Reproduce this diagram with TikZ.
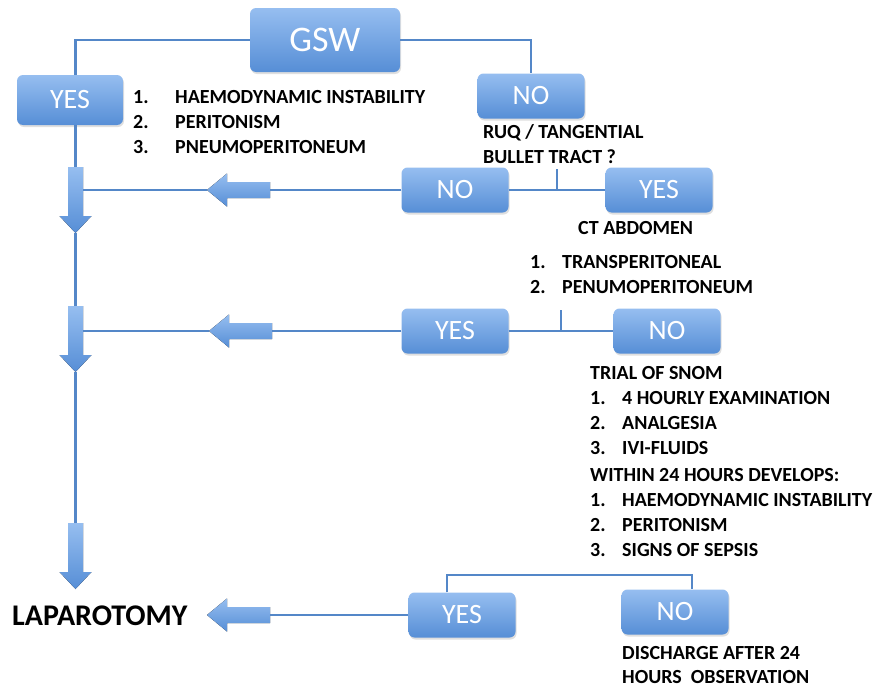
\documentclass[tikz,border=0pt]{standalone}
\usepackage{fontspec}
\setmainfont{Carlito}
\usetikzlibrary{calc,shadows}
\definecolor{boxtop}{RGB}{150,190,240}
\definecolor{boxbot}{RGB}{86,142,214}
\definecolor{linkblue}{RGB}{84,135,200}
\begin{document}
\begin{tikzpicture}[
            x=1pt, y=-1pt,
            box/.style={rounded corners=6pt, top color=boxtop, bottom color=boxbot, text=white,
              minimum width=107pt, minimum height=45pt, inner sep=0pt,
              font=\fontsize{28}{30}\selectfont,
              drop shadow={shadow xshift=1pt, shadow yshift=-2pt, opacity=0.25}},
            txt/.style={inner sep=0pt, anchor=base west, font=\bfseries\fontsize{20}{25}\selectfont},
            link/.style={draw=linkblue, line width=2.3pt},
            arrowfill/.style={top color=boxtop, bottom color=boxbot},
            pics/downarrow/.style={code={
              \fill[arrowfill] (-7.5,0) -- (7.5,0) -- (7.5,49) -- (16,49) -- (0,66) -- (-16,49) -- (-7.5,49) -- cycle;
              \coordinate (-top) at (0,0);
              \coordinate (-east) at (7.5,0);
              \coordinate (-tip) at (0,66);
            }},
            pics/leftarrow/.style={code={
              \fill[arrowfill] (0,-8) -- (-43,-8) -- (-43,-16.5) -- (-63,0) -- (-43,16.5) -- (-43,8) -- (0,8) -- cycle;
              \coordinate (-tail) at (0,0);
              \coordinate (-tip) at (-63,0);
            }}
            ]
            \fill[white] (0,0) rectangle (883,688);
            \useasboundingbox (0,0) rectangle (883,688);

            % decision boxes
            \node[box, minimum width=150pt, minimum height=64pt, font=\fontsize{36}{40}\selectfont] (gsw) at (325,40) {GSW};
            \node[box, minimum width=106pt, minimum height=50pt] (yes1) at (70,100) {YES};
            \node[box] (no1) at (531,96) {NO};
            \node[box] (no2) at (455,190) {NO};
            \node[box] (yes2) at (659,190) {YES};
            \node[box] (yes3) at (455,331) {YES};
            \node[box] (no3) at (667,331) {NO};
            \node[box] (yes4) at (462,615) {YES};
            \node[box] (no4) at (675,612) {NO};

            % texts
            \node[txt] (crit1) at (133,103.5) {\begin{tabular}[t]{@{}p{42pt}@{}l@{}}
              1.&HAEMODYNAMIC INSTABILITY\\2.&PERITONISM\\3.&PNEUMOPERITONEUM\end{tabular}};
            \node[txt] (ruq) at (483,138) {\begin{tabular}[t]{@{}l@{}}
              RUQ / TANGENTIAL\\BULLET TRACT ?\end{tabular}};
            \node[txt] (ct) at (578,234.5) {CT ABDOMEN};
            \node[txt] (trans) at (530,268.5) {\begin{tabular}[t]{@{}p{32pt}@{}l@{}}
              1.&TRANSPERITONEAL\\2.&PENUMOPERITONEUM\end{tabular}};
            \node[txt] (snom) at (590,379.5) {\begin{tabular}[t]{@{}p{32pt}@{}l@{}}
              \multicolumn{2}{@{}l@{}}{TRIAL OF SNOM}\\
              1.&4 HOURLY EXAMINATION\\2.&ANALGESIA\\3.&IVI-FLUIDS\end{tabular}};
            \node[txt] (within) at (590,481.5) {\begin{tabular}[t]{@{}p{32pt}@{}l@{}}
              \multicolumn{2}{@{}l@{}}{WITHIN 24 HOURS DEVELOPS:}\\
              1.&HAEMODYNAMIC INSTABILITY\\2.&PERITONISM\\3.&SIGNS OF SEPSIS\end{tabular}};
            \node[txt, font=\bfseries\fontsize{20}{24}\selectfont] (discharge) at (622,659) {\begin{tabular}[t]{@{}l@{}}
              DISCHARGE AFTER 24\\HOURS\ \ OBSERVATION\end{tabular}};
            \node[txt, font=\bfseries\fontsize{30}{34}\selectfont] (lap) at (12,625.5) {LAPAROTOMY};

            % block arrows
            \pic (da1) at (75.5,167) {downarrow};
            \pic (da2) at (75.5,306) {downarrow};
            \pic (da3) at (75.5,523) {downarrow};
            \pic (la1) at (270,190) {leftarrow};
            \pic (la2) at (272,331) {leftarrow};
            \pic (la3) at (270,615) {leftarrow};

            % connectors
            \draw[link] (gsw.west) -| (yes1.north -| da1-top);
            \draw[link] (gsw.east) -| (no1.north);
            \draw[link] (yes1.south -| da1-top) -- (da1-top);
            \draw[link] (da1-tip) -- (da2-top);
            \draw[link] (da2-tip) -- (da3-top);
            \draw[link] (no2.west) -- (la1-tail);
            \draw[link] (la1-tip) -- (la1-tip -| da1-east);
            \draw[link] (no2.east) -- (yes2.west);
            \coordinate (t1) at ($(no2.east)!0.5!(yes2.west)$);
            \draw[link] (t1) -- ++(0,-21);
            \draw[link] (yes3.west) -- (la2-tail);
            \draw[link] (la2-tip) -- (la2-tip -| da2-east);
            \draw[link] (yes3.east) -- (no3.west);
            \coordinate (t2) at ($(yes3.east)!0.5!(no3.west)$);
            \draw[link] (t2) -- ++(0,-21);
            \draw[link] ([xshift=-15pt]yes4.north) -- ++(0,-17) -| ([xshift=17pt]no4.north);
            \draw[link] (yes4.west) -- (la3-tail);
        \end{tikzpicture}
\end{document}
